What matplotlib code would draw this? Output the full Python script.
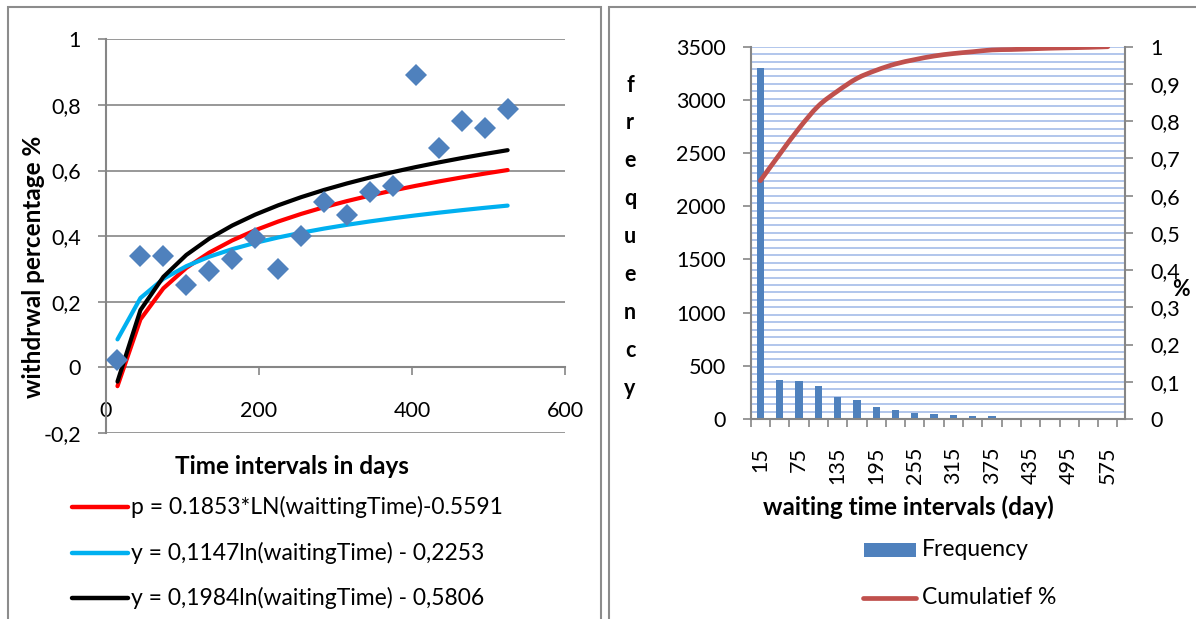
import numpy as np
import matplotlib
matplotlib.use("Agg")
import matplotlib.pyplot as plt
from matplotlib.path import Path
from matplotlib.patches import PathPatch, Rectangle
from matplotlib.lines import Line2D
from matplotlib.ticker import FuncFormatter, FixedLocator

plt.rcParams['font.family'] = ['Lato', 'DejaVu Sans']

# ---------------- data ----------------
# waiting time (days) and observed withdrawal share
wait_days = [15, 45, 75, 105, 135, 165, 195, 225, 255, 285,
             315, 345, 375, 405, 435, 465, 495, 525]
withdrawal = [0.023, 0.340, 0.340, 0.251, 0.295, 0.330, 0.394, 0.300, 0.401,
              0.503, 0.465, 0.536, 0.552, 0.891, 0.668, 0.752, 0.729, 0.788]

# logarithmic fits: (slope, intercept, colour, legend text)
fit_slopes = [0.1853, 0.1147, 0.1984]
fit_intercepts = [-0.5591, -0.2253, -0.5806]
fit_colors = ['#FF0000', '#00B0F0', '#000000']
fit_labels = ['p = 0.1853*LN(waittingTime)-0.5591',
              'y = 0,1147ln(waitingTime) - 0,2253',
              'y = 0,1984ln(waitingTime) - 0,5806']

# waiting time histogram
interval_labels = ['15', '45', '75', '105', '135', '165', '195', '225', '255',
                   '285', '315', '345', '375', '405', '435', '465', '495',
                   '525', '575']
frequency = [3300, 367, 357, 310, 207, 175, 113, 88, 60, 50, 34, 25, 25,
             6, 9, 9, 6, 6, 9]

# ---------------- style ----------------
W, H = 1196, 619
GRAY = '#868686'
BAR_BLUE = '#4F81BD'
CUM_RED = '#C0504D'
GRID_BLUE = '#ABC2EA'
FS = 15.5        # tick labels
FS_LEG = 16.5    # legend entries
FS_TITLE = 17.5  # axis titles


def fx(px):
    return px / W


def fy(py):
    return 1 - py / H


def comma(v, _pos=None):
    return f"{round(v, 2):g}".replace('.', ',')


fig = plt.figure(figsize=(W / 100, H / 100), dpi=100)
fig.patch.set_facecolor('white')

# panel frames
fig.add_artist(Rectangle((fx(8), -0.02), fx(601 - 8), fy(7) + 0.02,
                         transform=fig.transFigure, fill=False,
                         edgecolor='#8C8C8C', lw=1.5))
fig.add_artist(Rectangle((fx(609), -0.02), fx(W - 609) + 0.02, fy(7) + 0.02,
                         transform=fig.transFigure, fill=False,
                         edgecolor='#8C8C8C', lw=1.5))

# ---------------- left chart: withdrawal vs waiting time ----------------
ax = fig.add_axes([fx(106), fy(433), fx(565 - 106), (433 - 39.3) / H])
ax.set_xlim(0, 600)
ax.set_ylim(-0.2, 1.0)
ax.set_yticks(np.round(np.arange(-0.2, 1.01, 0.2), 2))
ax.set_xticks([0, 200, 400, 600])
ax.yaxis.set_major_formatter(FuncFormatter(comma))
ax.yaxis.grid(True, color=GRAY, lw=1.2)
ax.set_axisbelow(True)
for s in ('top', 'right'):
    ax.spines[s].set_visible(False)
ax.spines['bottom'].set_position(('data', 0))
for s in ('bottom', 'left'):
    ax.spines[s].set_color(GRAY)
    ax.spines[s].set_linewidth(1.5)
ax.tick_params(axis='y', direction='out', length=6, width=1.2, color=GRAY,
               pad=12, labelsize=FS)
ax.tick_params(axis='x', direction='out', length=6, width=1.2, color=GRAY,
               pad=18, labelsize=FS)

t = np.array(wait_days, dtype=float)
for a, b, c in zip(fit_slopes, fit_intercepts, fit_colors):
    ax.plot(t, a * np.log(t) + b, color=c, lw=3.0, solid_joinstyle='round',
            solid_capstyle='round', zorder=3, clip_on=False)
ax.plot(wait_days, withdrawal, linestyle='none', marker='D', markersize=11.5,
        color=BAR_BLUE, markeredgewidth=0, zorder=4, clip_on=False)

fig.text(fx(34), fy(267), 'withdrwal percentage %', rotation=90,
         ha='center', va='center', fontsize=FS_TITLE, fontweight='bold')
fig.text(fx(292), fy(467), 'Time intervals in days', ha='center',
         va='center', fontsize=FS_TITLE, fontweight='bold')

for i, (c, lab) in enumerate(zip(fit_colors, fit_labels)):
    yy = fy(507 + i * 45.5)
    fig.add_artist(Line2D([fx(72), fx(128)], [yy, yy], color=c, lw=3.2,
                          solid_capstyle='round',
                          transform=fig.transFigure))
    fig.text(fx(131), yy, lab, ha='left', va='center', fontsize=FS_LEG)

# ---------------- right chart: waiting time histogram ----------------
n = len(frequency)
ax2 = fig.add_axes([fx(750.7), fy(419), fx(1125 - 750.7), (419 - 46.7) / H])
ax3 = ax2.twinx()
ax2.set_xlim(-0.5, n - 0.11)
ax2.set_ylim(0, 3500)
ax3.set_ylim(0, 1)
ax2.set_yticks(np.arange(0, 3501, 500))
ax3.set_yticks(np.round(np.arange(0, 1.01, 0.1), 1))
ax3.yaxis.set_major_formatter(FuncFormatter(comma))

# fine horizontal grid every 0.02 of the cumulative scale
for g in np.linspace(0, 3500, 51)[1:]:
    ax2.axhline(g, color=GRID_BLUE, lw=1.3, zorder=0)

idx = np.arange(n)
ax2.bar(idx, frequency, width=0.38, color=BAR_BLUE, zorder=2)

# cumulative share, drawn as a smooth curve through the points
cum = np.cumsum(frequency) / np.sum(frequency)
pts = np.column_stack([idx, cum])
verts = [tuple(pts[0])]
codes = [Path.MOVETO]
for k in range(n - 1):
    p0 = pts[max(k - 1, 0)]
    p1 = pts[k]
    p2 = pts[k + 1]
    p3 = pts[min(k + 2, n - 1)]
    c1 = p1 + (p2 - p0) / 6.0
    c2 = p2 - (p3 - p1) / 6.0
    verts += [tuple(c1), tuple(c2), tuple(p2)]
    codes += [Path.CURVE4] * 3
ax3.add_patch(PathPatch(Path(verts, codes), fill=False, edgecolor=CUM_RED,
                        lw=3.4, capstyle='round', joinstyle='round',
                        zorder=5))

ax2.set_xticks(idx[::2])
ax2.set_xticklabels(interval_labels[::2], rotation=90, fontsize=FS)
ax2.xaxis.set_minor_locator(FixedLocator(np.arange(-0.5, n, 1.0)))
ax2.tick_params(axis='x', which='major', length=0, pad=20)
ax2.tick_params(axis='x', which='minor', length=6, width=1.2, color=GRAY,
                direction='out')
ax2.tick_params(axis='y', length=6, width=1.2, color=GRAY, direction='out',
                pad=12, labelsize=FS)
ax3.tick_params(axis='y', length=6, width=1.2, color=GRAY, direction='out',
                pad=12, labelsize=FS)
for a in (ax2, ax3):
    a.spines['top'].set_visible(False)
    for s in ('bottom', 'left', 'right'):
        a.spines[s].set_color(GRAY)
        a.spines[s].set_linewidth(1.5)
ax2.spines['right'].set_visible(False)
ax3.spines['left'].set_visible(False)
ax3.spines['bottom'].set_visible(False)

for i, ch in enumerate('frequency'):
    fig.text(fx(630), fy(85 + i * 37.9), ch, ha='center', va='center',
             fontsize=FS, fontweight='bold')
fig.text(fx(1181), fy(290), '%', ha='center', va='center', fontsize=FS,
         fontweight='bold')
fig.text(fx(908), fy(507), 'waiting time intervals (day)', ha='center',
         va='center', fontsize=FS_TITLE, fontweight='bold')

# legend for the histogram panel
fig.add_artist(Rectangle((fx(864), fy(557)), fx(52), 14 / H,
                         transform=fig.transFigure, color=BAR_BLUE, lw=0))
fig.text(fx(922), fy(550), 'Frequency', ha='left', va='center',
         fontsize=FS_LEG)
fig.add_artist(Line2D([fx(863), fx(916)], [fy(598), fy(598)], color=CUM_RED,
                      lw=3.4, solid_capstyle='round',
                      transform=fig.transFigure))
fig.text(fx(922), fy(598), 'Cumulatief %', ha='left', va='center',
         fontsize=FS_LEG)

fig.savefig('out.png', dpi=100, facecolor='white')
